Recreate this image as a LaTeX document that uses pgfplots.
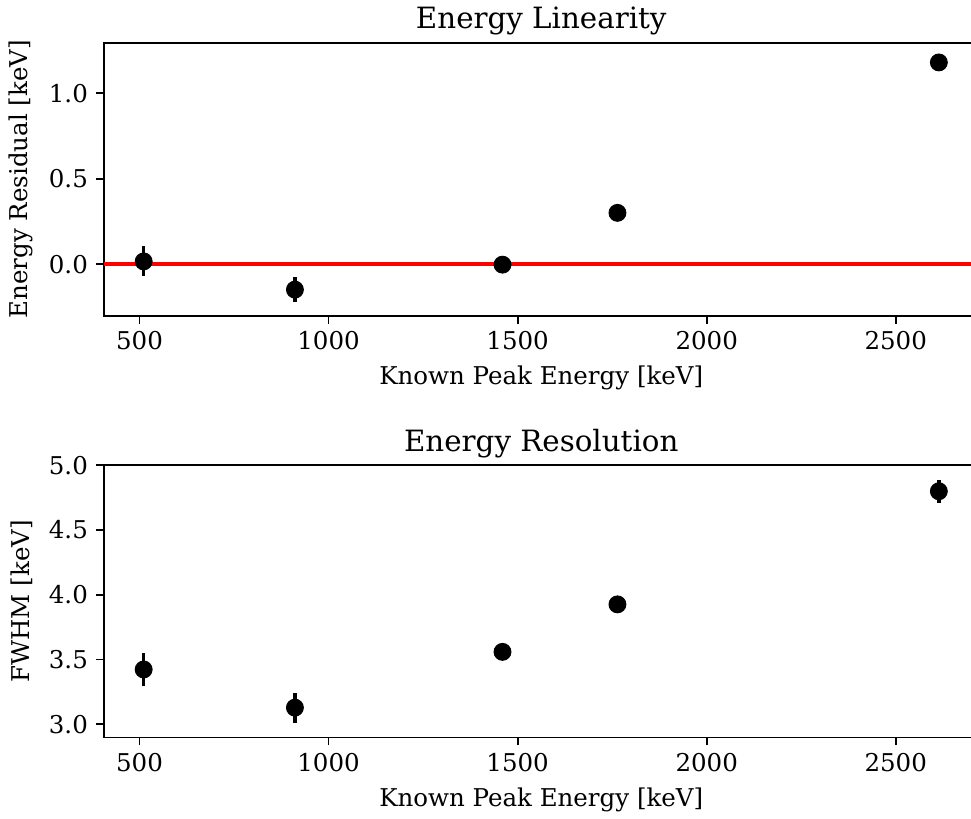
\documentclass[border=0pt]{standalone}
\usepackage{fontspec}
\setmainfont{DejaVu Serif}
\usepackage{pgfplots}
\pgfplotsset{compat=1.18}
\usetikzlibrary{calc}
\begin{document}
\begin{tikzpicture}[font=\fontsize{10.7}{12.8}\selectfont]
\pgfplotsset{
  myaxis/.style={
    scale only axis,
    width=381.9pt,
    xmin=406, xmax=2719,
    xtick={500,1000,1500,2000,2500},
    xticklabels={500,1000,1500,2000,2500},
    tick align=outside,
    xtick pos=lower, ytick pos=left,
    major tick length=3.5pt,
    every tick/.style={black, line width=0.8pt},
    axis line style={line width=0.8pt},
    /pgf/number format/assume math mode=true,
    tick label style={font=\fontsize{10.7}{12.8}\selectfont},
    label style={font=\fontsize{10.7}{12.8}\selectfont},
    title style={font=\fontsize{12.8}{15}\selectfont, at={(0.5,1)}, anchor=base, yshift=0pt},
    xlabel={Known Peak Energy [keV]},
    clip=false,
  },
  mypts/.style={
    only marks, mark=*, mark size=3.7pt, black,
    mark options={fill=black, draw=black},
    error bars/.cd, y dir=both, y explicit, error mark=none,
    error bar style={line width=1.5pt, black},
  },
}
\begin{axis}[myaxis, name=top, height=119.2pt,
  ymin=-0.301, ymax=1.296,
  ytick={0,0.5,1.0}, yticklabels={0.0,0.5,1.0},
  title={Energy Linearity},
  ylabel={Energy Residual [keV]}]
\addplot[red, line width=1.5pt, forget plot] coordinates {(406,0) (2719,0)};
\addplot[mypts] table[x=x, y=y, y error=e] {
x y e
511 0.016 0.088
911 -0.149 0.073
1460 -0.003 0.015
1764 0.300 0.020
2614 1.180 0.035
};
\coordinate (TL) at (rel axis cs:0,1);
\end{axis}
\begin{axis}[myaxis, name=bot, height=118.8pt,
  at={($(top.south west)-(0,65.4pt)$)}, anchor=north west,
  ymin=2.898, ymax=5.0,
  ytick={3.0,3.5,4.0,4.5,5.0}, yticklabels={3.0,3.5,4.0,4.5,5.0},
  title={Energy Resolution},
  ylabel={FWHM [keV]}]
\addplot[mypts] table[x=x, y=y, y error=e] {
x y e
511 3.423 0.128
911 3.128 0.115
1460 3.559 0.030
1764 3.926 0.035
2614 4.800 0.090
};
\coordinate (BL) at (rel axis cs:0,0);
\end{axis}
\pgfresetboundingbox
\useasboundingbox ([xshift=-45.4pt, yshift=18.6pt]TL) rectangle ([xshift=378.6pt, yshift=-35.5pt]BL);
\end{tikzpicture}
\end{document}
